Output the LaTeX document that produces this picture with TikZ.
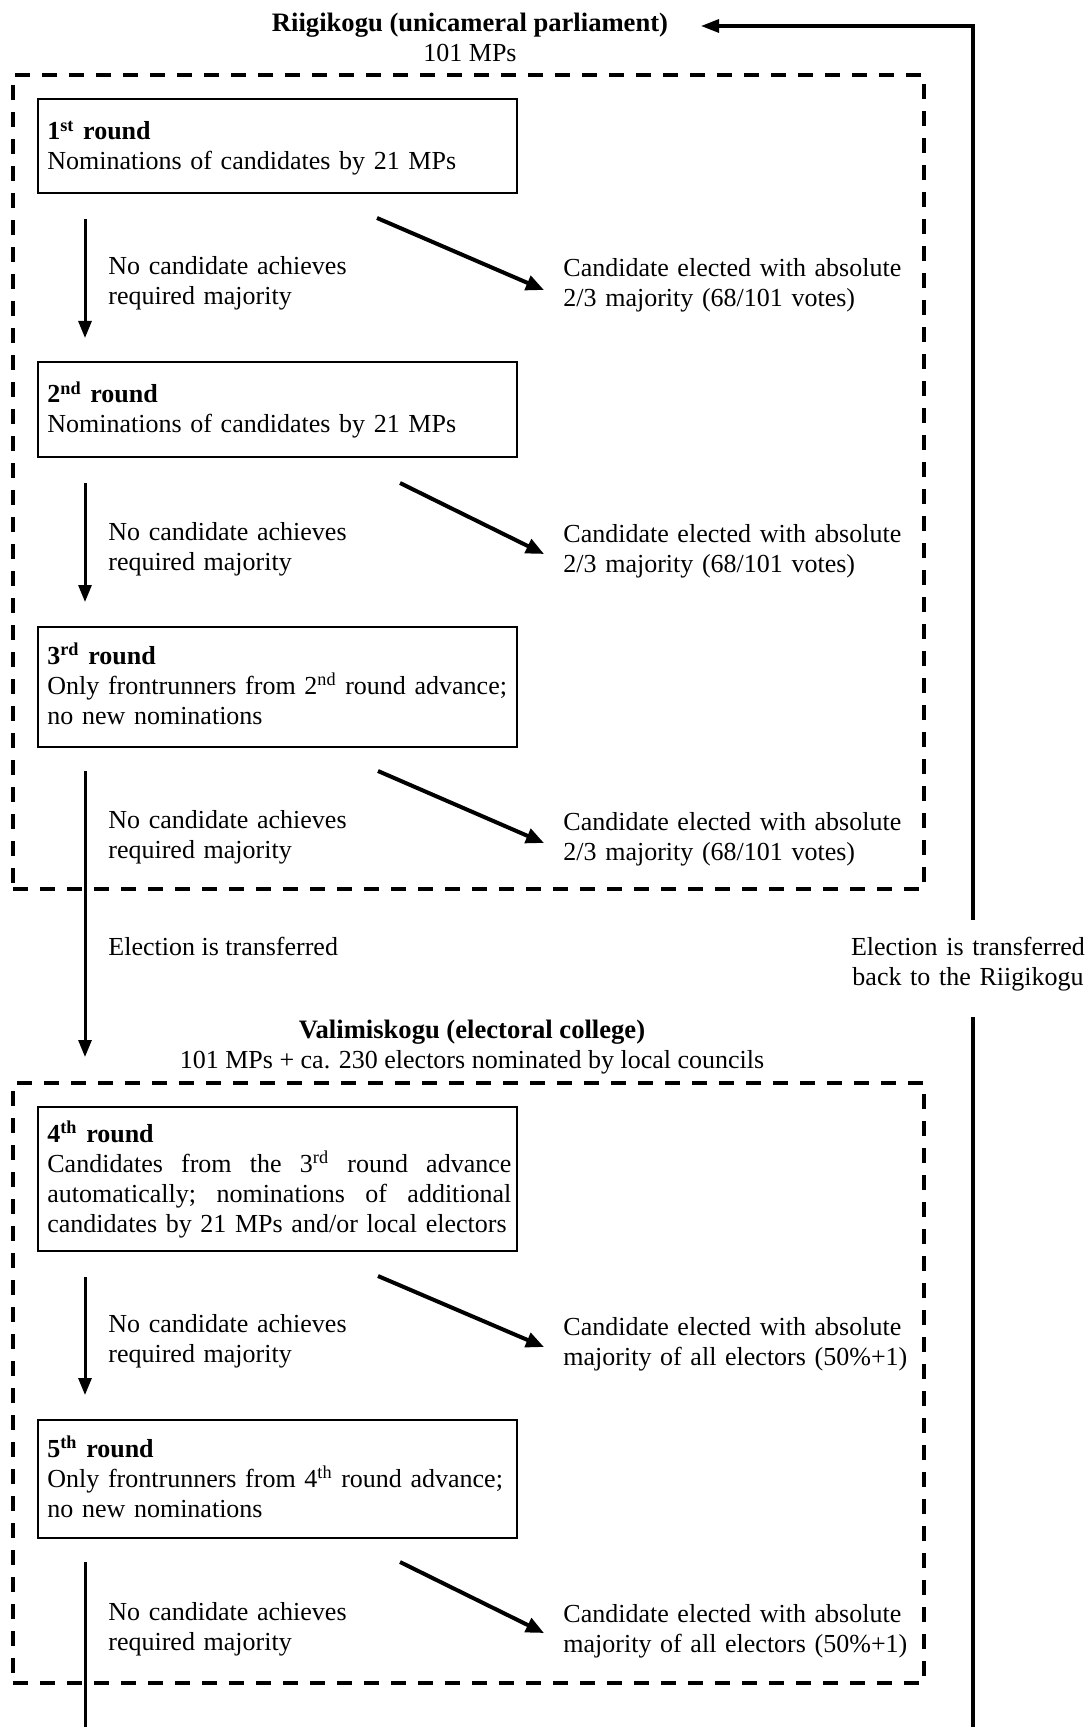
\documentclass[tikz,border=0pt]{standalone}
\usepackage{fontspec}
\setmainfont{Liberation Serif}
\usetikzlibrary{arrows.meta,fit}
\begin{document}
\begin{tikzpicture}[x=0.5pt,y=-0.5pt,
  txt/.style={font=\fontsize{13}{15}\selectfont, inner sep=0pt, anchor=base west},
  ttl/.style={font=\fontsize{13.3}{15}\selectfont\bfseries, inner sep=0pt, anchor=base},
  sub/.style={font=\fontsize{13}{15}\selectfont, inner sep=0pt, anchor=base},
  para/.style={txt, text width=#1, align=left},
  roundbox/.style={draw, line width=0.6pt, inner sep=0pt},
  dashbox/.style={draw, line width=2pt, dash pattern=on 7.5pt off 6pt, inner sep=0pt},
  downarrow/.style={line width=1.5pt, -{Triangle[length=8.5pt,width=6.5pt]}},
  diagarrow/.style={line width=2pt, -{Triangle[length=9pt,width=7.5pt]}},
  plainline/.style={line width=1.5pt},
  backline/.style={line width=1.6pt},
]
\useasboundingbox (0,0) rectangle (1091,1727);

% ---------- Riigikogu ----------
\node[ttl] (riig) at (470,32) {Riigikogu (unicameral parliament)};
\node[sub] (riigsub) at (470,62) {101 MPs};
\node[dashbox, fit={(13,75)(924,889)}] (riigbox) {};

\node[roundbox, fit={(38,99)(517,193)}] (r1) {};
\node[para=240pt] (t1) at (47,140) {\textbf{1\textsuperscript{st} round}\\Nominations of candidates by 21 MPs};

\node[roundbox, fit={(38,362)(517,457)}] (r2) {};
\node[para=240pt] (t2) at (47,403) {\textbf{2\textsuperscript{nd} round}\\Nominations of candidates by 21 MPs};

\node[roundbox, fit={(38,627)(517,747)}] (r3) {};
\node[para=240pt] (t3) at (47,664) {\textbf{3\textsuperscript{rd} round}\\Only frontrunners from 2\textsuperscript{nd} round advance;\\no new nominations};

\node[para=150pt] (n1) at (108,275) {No candidate achieves\\required majority};
\node[para=185pt] (c1) at (563,277) {Candidate elected with absolute\\2/3 majority (68/101 votes)};
\node[para=150pt] (n2) at (108,540) {No candidate achieves\\required majority};
\node[para=185pt] (c2) at (563,542) {Candidate elected with absolute\\2/3 majority (68/101 votes)};
\node[para=150pt] (n3) at (108,828) {No candidate achieves\\required majority};
\node[para=185pt] (c3) at (563,830) {Candidate elected with absolute\\2/3 majority (68/101 votes)};

\node[txt] (trans) at (108,955) {Election is transferred};
\node[sub, text width=130pt, align=center] (transback) at (968,955) {Election is transferred\\back to the Riigikogu};

% ---------- Valimiskogu ----------
\node[ttl] (vali) at (472,1038) {Valimiskogu (electoral college)};
\node[sub] (valisub) at (472,1068) {101 MPs + ca. 230 electors nominated by local councils};
\node[dashbox, fit={(13,1083)(924,1683)}] (valibox) {};

\node[roundbox, fit={(38,1107)(517,1251)}] (r4) {};
\node[para=240pt] (t4) at (47,1142) {\textbf{4\textsuperscript{th} round}\\\makebox[232pt][l]{Candidates\hfill from\hfill the\hfill 3\textsuperscript{rd}\hfill round\hfill advance}\\\makebox[232pt][l]{automatically;\hfill nominations\hfill of\hfill additional}\\candidates by 21 MPs and/or local electors};

\node[roundbox, fit={(38,1420)(517,1538)}] (r5) {};
\node[para=240pt] (t5) at (47,1457) {\textbf{5\textsuperscript{th} round}\\Only frontrunners from 4\textsuperscript{th} round advance;\\no new nominations};

\node[para=150pt] (n4) at (108,1332) {No candidate achieves\\required majority};
\node[para=185pt] (c4) at (563,1335) {Candidate elected with absolute\\majority of all electors (50\%+1)};
\node[para=150pt] (n5) at (108,1620) {No candidate achieves\\required majority};
\node[para=185pt] (c5) at (563,1622) {Candidate elected with absolute\\majority of all electors (50\%+1)};

% ---------- connector end points ----------
\coordinate (v1a) at (85,219);  \coordinate (v1b) at (85,338);
\coordinate (v2a) at (85,483);  \coordinate (v2b) at (85,602);
\coordinate (v3a) at (85,771);  \coordinate (v3b) at (85,1057);
\coordinate (v4a) at (85,1277); \coordinate (v4b) at (85,1395);
\coordinate (v5a) at (85,1562); \coordinate (v5b) at (85,1727);

\coordinate (d1a) at (377,218);  \coordinate (d1b) at (544,290);
\coordinate (d2a) at (400,483);  \coordinate (d2b) at (544,554);
\coordinate (d3a) at (378,771);  \coordinate (d3b) at (544,843);
\coordinate (d4a) at (378,1276); \coordinate (d4b) at (544,1347);
\coordinate (d5a) at (400,1562); \coordinate (d5b) at (544,1633);

\coordinate (bk0) at (973,1727);
\coordinate (bk1) at (973,1017);
\coordinate (bk2) at (973,920);
\coordinate (bk3) at (973,26);
\coordinate (bk4) at (701,26);

% ---------- connectors ----------
\draw[downarrow] (v1a) -- (v1b);
\draw[downarrow] (v2a) -- (v2b);
\draw[downarrow] (v3a) -- (v3b);
\draw[downarrow] (v4a) -- (v4b);
\draw[plainline] (v5a) -- (v5b);

\draw[diagarrow] (d1a) -- (d1b);
\draw[diagarrow] (d2a) -- (d2b);
\draw[diagarrow] (d3a) -- (d3b);
\draw[diagarrow] (d4a) -- (d4b);
\draw[diagarrow] (d5a) -- (d5b);

\draw[backline] (bk0) -- (bk1);
\draw[backline, -{Triangle[length=9pt,width=6.5pt]}] (bk2) -- (bk3) -- (bk4);
\end{tikzpicture}
\end{document}
